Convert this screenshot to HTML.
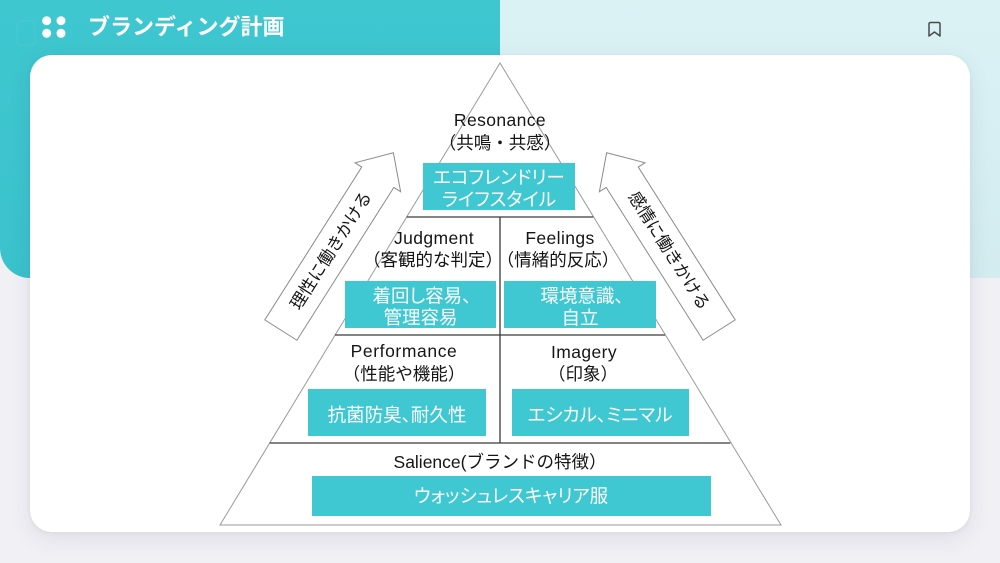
<!DOCTYPE html>
<html>
<head>
<meta charset="utf-8">
<style>
  html,body{margin:0;padding:0;}
  body{width:1000px;height:563px;overflow:hidden;background:#f1f0f5;position:relative;
       font-family:"Liberation Sans","Noto Sans CJK JP",sans-serif;}
  .tl{position:absolute;left:0;top:0;width:500px;height:278px;background:linear-gradient(180deg,#3fc7d0 0%,#3bc2cc 100%);border-bottom-left-radius:30px;}
  .tr{position:absolute;left:500px;top:0;width:500px;height:278px;background:linear-gradient(180deg,#dbf2f5 0%,#d3ecf0 100%);}
  .card{position:absolute;left:30px;top:55px;width:940px;height:477px;background:#fff;border-radius:22px;
        box-shadow:0 6px 22px rgba(60,60,90,0.10),0 1px 4px rgba(60,60,90,0.06);}
  svg{position:absolute;left:0;top:0;}
  .lbl{font-family:"Liberation Sans","Noto Sans CJK JP",sans-serif;font-size:17.5px;fill:#151515;}
  .box{font-family:"Liberation Sans","Noto Sans CJK JP",sans-serif;font-size:18.5px;fill:#ffffff;font-feature-settings:"palt";}
  .arr{font-family:"Liberation Sans","Noto Sans CJK JP",sans-serif;font-size:17px;fill:#151515;}
</style>
</head>
<body>
<div class="tl"></div>
<div class="tr"></div>
<div class="card"></div>
<svg width="1000" height="563" viewBox="0 0 1000 563" xmlns="http://www.w3.org/2000/svg">
  <!-- header -->
  <rect x="17" y="21" width="18" height="24" rx="3" fill="none" stroke="rgba(255,255,255,0.06)" stroke-width="1"/>
  <circle cx="46.7" cy="20.7" r="4.5" fill="#fff"/>
  <circle cx="61" cy="20.7" r="4.5" fill="#fff"/>
  <circle cx="46.7" cy="33.3" r="4.5" fill="#fff"/>
  <circle cx="61" cy="33.3" r="4.5" fill="#fff"/>
  <text x="88" y="27" dominant-baseline="central" font-family="'Liberation Sans','Noto Sans CJK JP',sans-serif" font-size="22" font-weight="bold" fill="#ffffff">ブランディング計画</text>
  <path d="M929,36 V24 Q929,22.5 930.5,22.5 H938.5 Q940,22.5 940,24 V36 L934.5,32 Z" fill="none" stroke="#4a4a4a" stroke-width="1.5" stroke-linejoin="round"/>

  <!-- pyramid -->
  <polygon points="500,63 220,525 781,525" fill="#fff" stroke="#9a9a9a" stroke-width="1"/>
  <line x1="406.7" y1="217" x2="593.3" y2="217" stroke="#3a3a3a" stroke-width="1.3"/>
  <line x1="335" y1="335" x2="665" y2="335" stroke="#3a3a3a" stroke-width="1.3"/>
  <line x1="269.7" y1="443" x2="730.3" y2="443" stroke="#3a3a3a" stroke-width="1.3"/>
  <line x1="500" y1="217" x2="500" y2="443" stroke="#3a3a3a" stroke-width="1.3"/>

  <!-- labels -->
  <text class="lbl" x="500" y="120" text-anchor="middle" dominant-baseline="central" letter-spacing="0.4">Resonance</text>
  <text class="lbl" x="500" y="143" text-anchor="middle" dominant-baseline="central">（共鳴・共感）</text>

  <text class="lbl" x="434" y="238" text-anchor="middle" dominant-baseline="central" letter-spacing="0.4">Judgment</text>
  <text class="lbl" x="433" y="260" text-anchor="middle" dominant-baseline="central">（客観的な判定）</text>

  <text class="lbl" x="560" y="238" text-anchor="middle" dominant-baseline="central" letter-spacing="0.4">Feelings</text>
  <text class="lbl" x="558" y="260" text-anchor="middle" dominant-baseline="central">（情緒的反応）</text>

  <text class="lbl" x="404" y="351" text-anchor="middle" dominant-baseline="central" letter-spacing="0.6">Performance</text>
  <text class="lbl" x="404" y="374" text-anchor="middle" dominant-baseline="central">（性能や機能）</text>

  <text class="lbl" x="584" y="352" text-anchor="middle" dominant-baseline="central" letter-spacing="0.4">Imagery</text>
  <text class="lbl" x="583" y="374" text-anchor="middle" dominant-baseline="central">（印象）</text>

  <text class="lbl" x="500" y="462" text-anchor="middle" dominant-baseline="central">Salience(ブランドの特徴）</text>

  <!-- teal boxes -->
  <rect x="423" y="163" width="152" height="47" fill="#40c8d2"/>
  <text class="box" x="499" y="177.5" text-anchor="middle" dominant-baseline="central">エコフレンドリー</text>
  <text class="box" x="499" y="199.5" text-anchor="middle" dominant-baseline="central">ライフスタイル</text>

  <rect x="345" y="281" width="151" height="47" fill="#40c8d2"/>
  <text class="box" x="422" y="296" text-anchor="middle" dominant-baseline="central">着回し容易、</text>
  <text class="box" x="420.5" y="317.5" text-anchor="middle" dominant-baseline="central">管理容易</text>

  <rect x="504" y="281" width="152" height="47" fill="#40c8d2"/>
  <text class="box" x="582" y="296" text-anchor="middle" dominant-baseline="central">環境意識、</text>
  <text class="box" x="580" y="318" text-anchor="middle" dominant-baseline="central">自立</text>

  <rect x="308" y="389" width="178" height="47" fill="#40c8d2"/>
  <text class="box" x="397" y="415" text-anchor="middle" dominant-baseline="central">抗菌防臭、耐久性</text>

  <rect x="512" y="389" width="177" height="47" fill="#40c8d2"/>
  <text class="box" x="600" y="415" text-anchor="middle" dominant-baseline="central">エシカル、ミニマル</text>

  <rect x="312" y="476" width="399" height="40" fill="#40c8d2"/>
  <text class="box" x="511" y="496" text-anchor="middle" dominant-baseline="central">ウォッシュレスキャリア服</text>

  <!-- left arrow -->
  <g transform="translate(337.1,241.4) rotate(32.4)">
    <polygon points="0,-105 27,-76 19,-76 19,105 -19,105 -19,-76 -27,-76" fill="#fff" stroke="#8a8a8a" stroke-width="1"/>
    <text class="arr" transform="translate(0,11) rotate(-90)" text-anchor="middle" dominant-baseline="central">理性に働きかける</text>
  </g>
  <!-- right arrow -->
  <g transform="translate(662.9,241.4) rotate(-32.4)">
    <polygon points="0,-105 27,-76 19,-76 19,105 -19,105 -19,-76 -27,-76" fill="#fff" stroke="#8a8a8a" stroke-width="1"/>
    <text class="arr" transform="translate(0,11) rotate(90)" text-anchor="middle" dominant-baseline="central">感情に働きかける</text>
  </g>
</svg>
</body>
</html>
